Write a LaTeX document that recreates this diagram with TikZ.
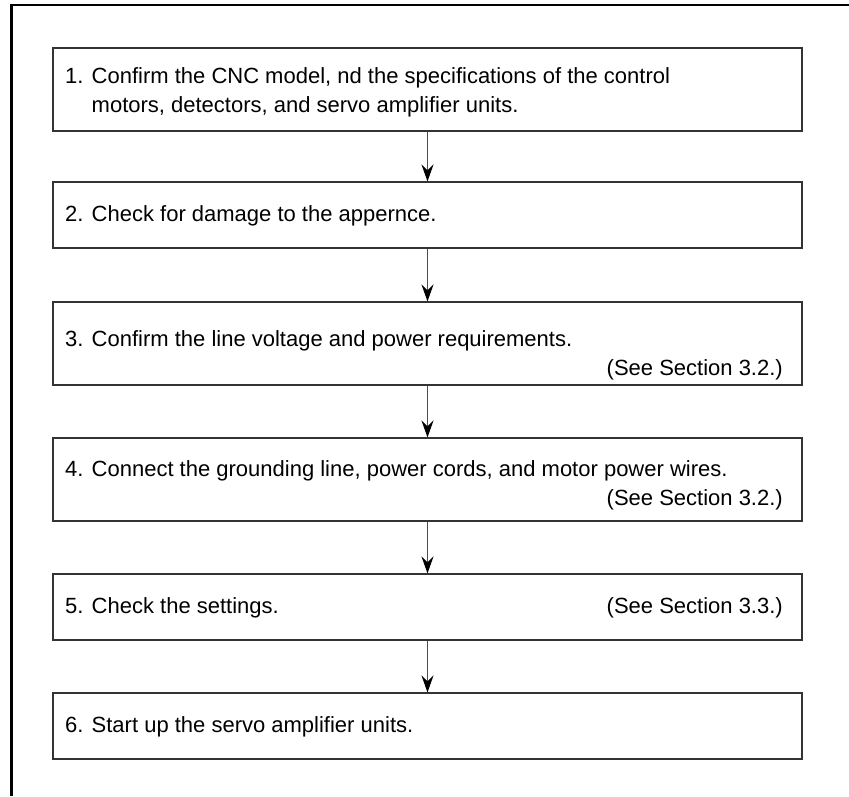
\documentclass[tikz,border=0pt]{standalone}
\usepackage{fontspec}
\setmainfont{Liberation Sans}
\usetikzlibrary{arrows.meta}
\begin{document}
\begin{tikzpicture}[x=1pt,y=-1pt,
  box/.style={draw=black!80,line width=1.1pt,minimum width=749pt,inner sep=0pt,fill=white},
  txt/.style={anchor=base west,inner sep=0pt,font=\fontsize{22pt}{26pt}\selectfont},
  rtxt/.style={anchor=base east,inner sep=0pt,font=\fontsize{22pt}{26pt}\selectfont},
  flow/.style={draw=black!70,line width=1.1pt,-{Stealth[length=17pt,width=12pt,inset=6pt,color=black]}}]
\useasboundingbox (0,0) rectangle (849,796);
% outer frame (top and left)
\draw[line width=2.2pt] (11.5,796) -- (11.5,5) -- (849,5);
% boxes
\node[box,minimum height=83pt] (b1) at (427.5,89.5) {};
\node[box,minimum height=66pt] (b2) at (427.5,215) {};
\node[box,minimum height=83pt] (b3) at (427.5,343.5) {};
\node[box,minimum height=83pt] (b4) at (427.5,479.5) {};
\node[box,minimum height=66pt] (b5) at (427.5,607) {};
\node[box,minimum height=66pt] (b6) at (427.5,726) {};
% texts
\node[txt] (t1a) at (65,83) {1. Confirm the CNC model, nd the specifications of the control};
\node[txt] (t1b) at (65,112) {\phantom{1. }motors, detectors, and servo amplifier units.};
\node[txt] (t2) at (65,221) {2. Check for damage to the appernce.};
\node[txt] (t3a) at (65,346) {3. Confirm the line voltage and power requirements.};
\node[rtxt] (t3b) at (783,375) {(See Section 3.2.)};
\node[txt] (t4a) at (65,476) {4. Connect the grounding line, power cords, and motor power wires.};
\node[rtxt] (t4b) at (783,505) {(See Section 3.2.)};
\node[txt] (t5a) at (65,613) {5. Check the settings.};
\node[rtxt] (t5b) at (783,613) {(See Section 3.3.)};
\node[txt] (t6) at (65,732) {6. Start up the servo amplifier units.};
% connectors
\draw[flow] (b1.south) -- (b2.north);
\draw[flow] (b2.south) -- (b3.north);
\draw[flow] (b3.south) -- (b4.north);
\draw[flow] (b4.south) -- (b5.north);
\draw[flow] (b5.south) -- (b6.north);
\end{tikzpicture}
\end{document}
